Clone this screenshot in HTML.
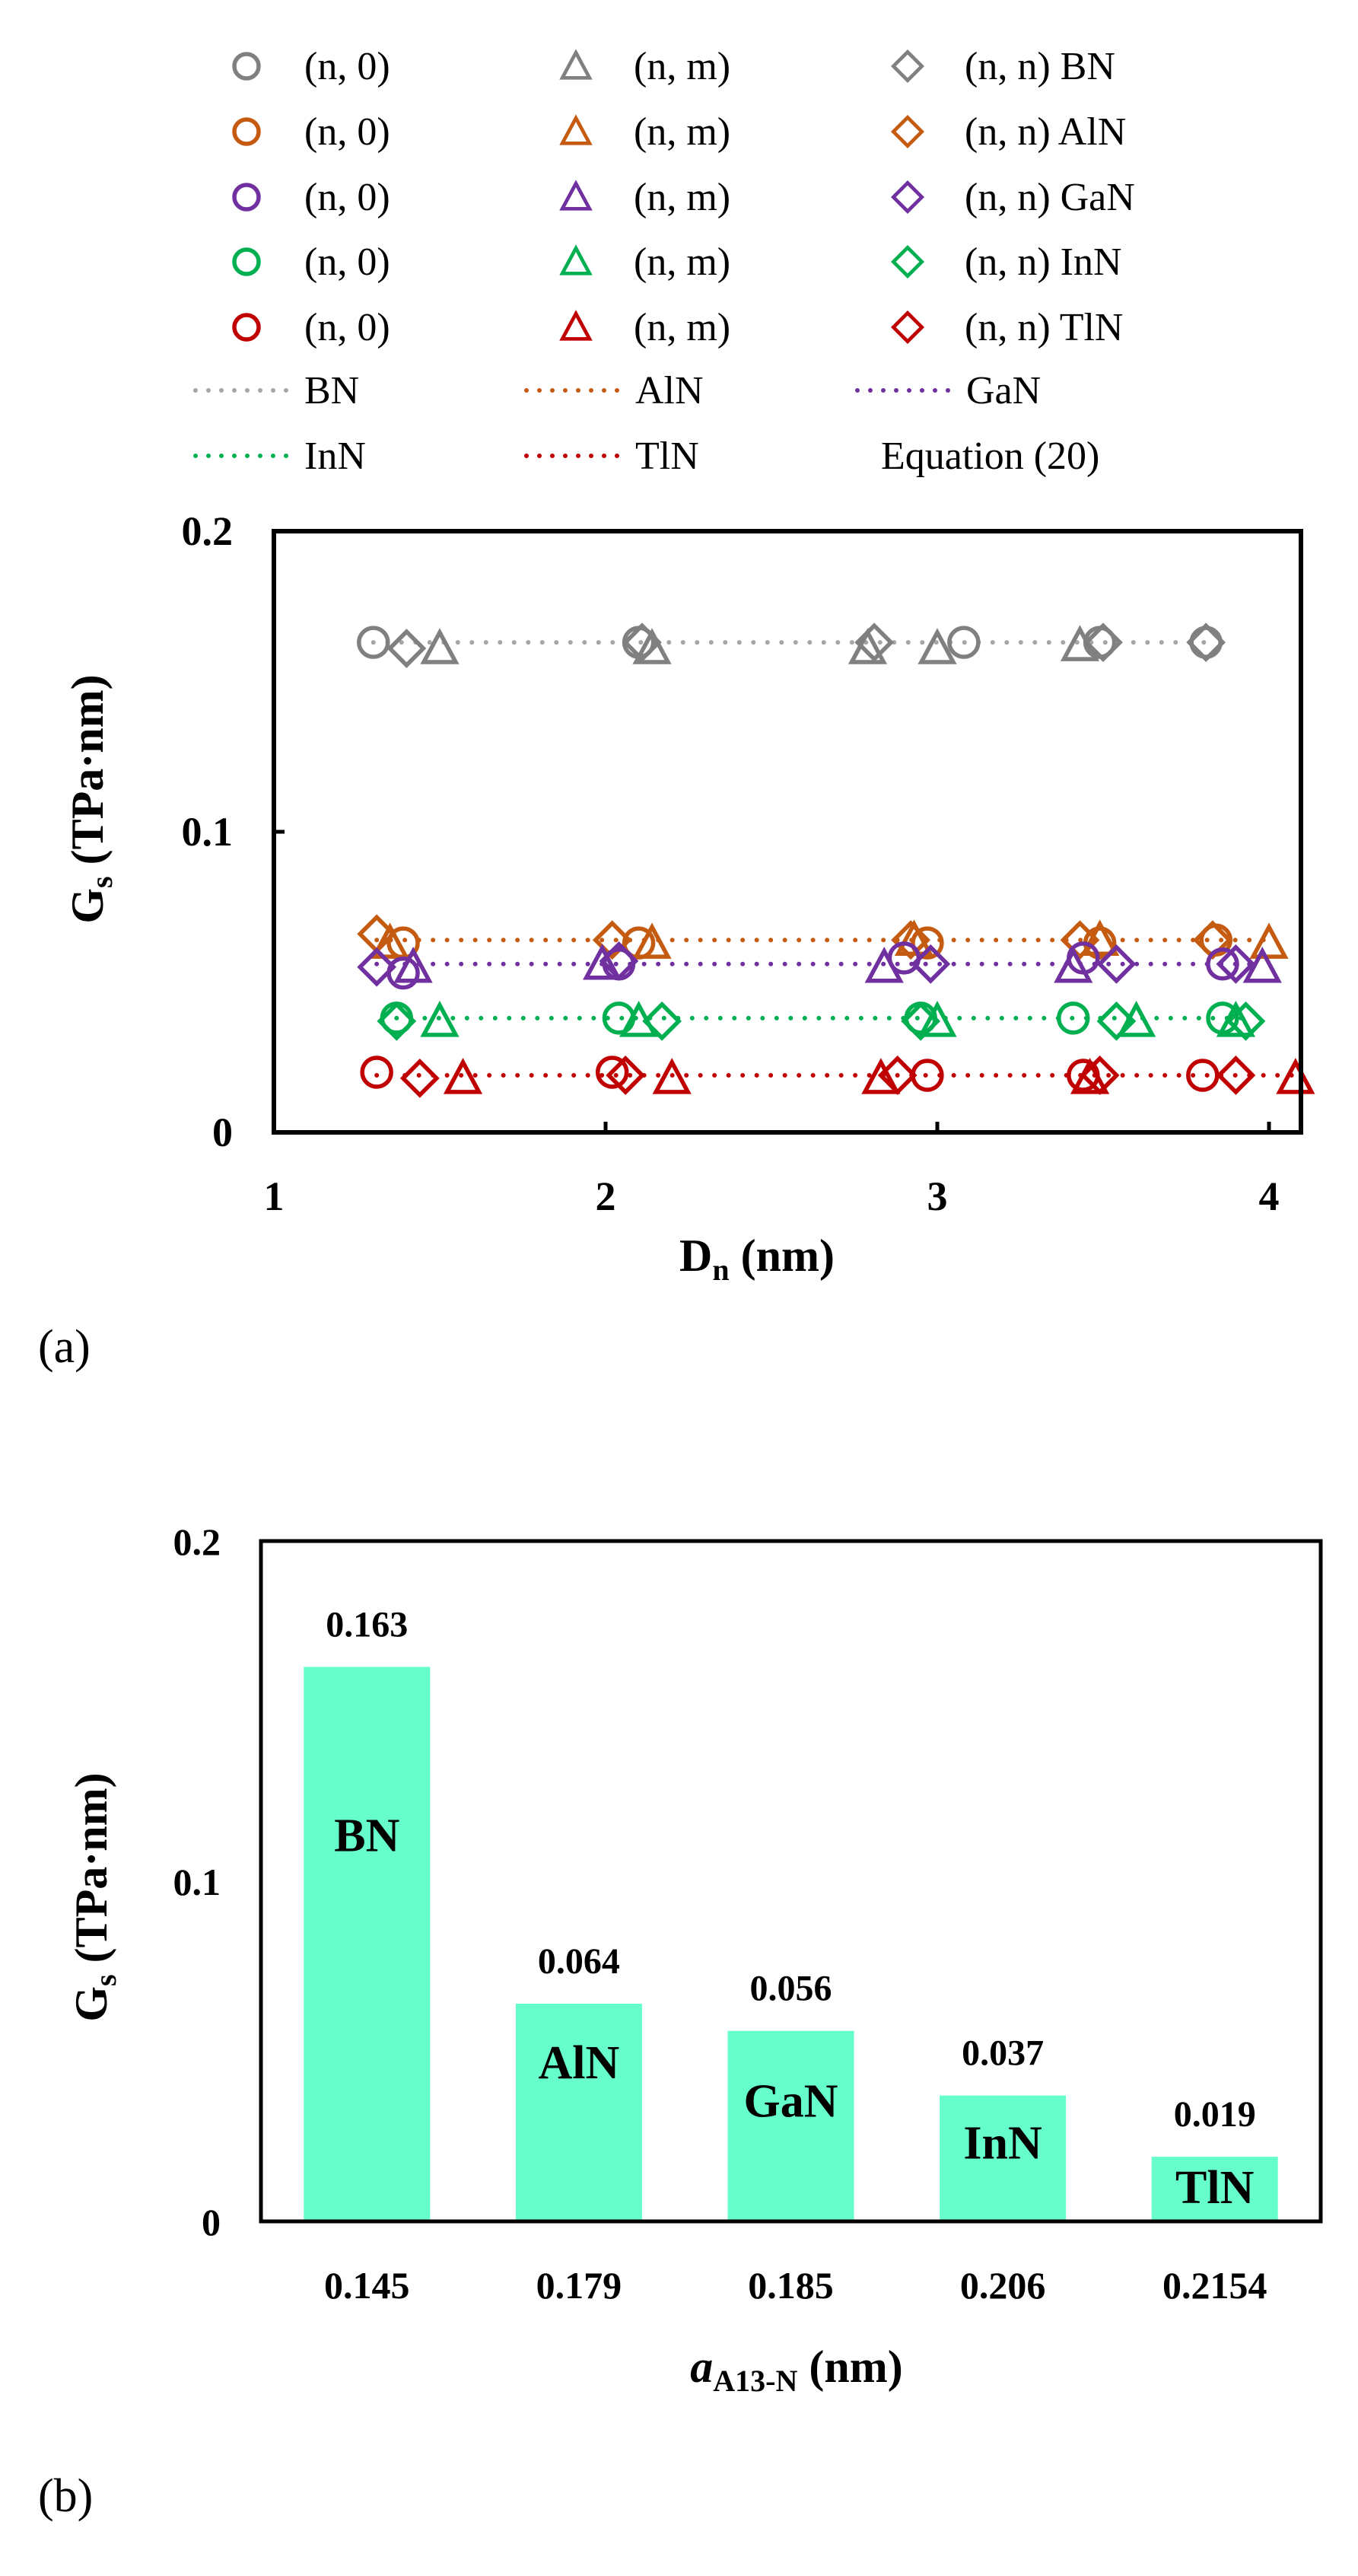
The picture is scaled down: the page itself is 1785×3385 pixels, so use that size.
<!DOCTYPE html>
<html><head><meta charset="utf-8"><style>
html,body{margin:0;padding:0;background:#fff;}
svg{display:block;font-family:"Liberation Serif",serif;}
</style></head><body>
<svg id="fig" width="1785" height="3385" viewBox="0 0 1785 3385" xmlns="http://www.w3.org/2000/svg">
<g id="legend"></g>
<g id="chartA"></g>
<g id="chartB"></g>
</svg>
<script>
const materials = ["BN","AlN","GaN","InN","TlN"];
const colors = ["#808080","#C55A11","#7030A0","#00B050","#C00000"];
const lineColors = ["#A6A6A6","#C55A11","#7030A0","#00B050","#C00000"];
// chart (a) data: D_n (nm) and G_s (TPa·nm)
const zigzagD = [[1.30,2.10,3.08,3.49,3.81],[1.39,2.10,2.97,3.49,3.84],[1.39,2.04,2.90,3.44,3.86],[1.37,2.04,2.95,3.41,3.86],[1.31,2.02,2.97,3.44,3.80]];
const zigzagG = [[0.163,0.163,0.163,0.163,0.163],[0.063,0.063,0.063,0.063,0.064],[0.053,0.056,0.058,0.058,0.056],[0.038,0.038,0.038,0.038,0.038],[0.020,0.020,0.019,0.019,0.019]];
const chiralD = [[1.50,2.14,2.79,3.00,3.43],[1.35,2.14,2.93,3.49,4.00],[1.42,1.99,2.84,3.41,3.98],[1.50,2.10,3.00,3.60,3.90],[1.57,2.20,2.83,3.46,4.08]];
const chiralG = [[0.161,0.161,0.161,0.161,0.162],[0.063,0.063,0.064,0.064,0.063],[0.055,0.056,0.055,0.055,0.055],[0.037,0.037,0.037,0.037,0.037],[0.018,0.018,0.018,0.018,0.018]];
const armchairD = [[1.40,2.11,2.81,3.50,3.81],[1.31,2.02,2.92,3.43,3.83],[1.31,2.04,2.98,3.54,3.90],[1.37,2.17,2.95,3.54,3.93],[1.44,2.06,2.88,3.49,3.90]];
const armchairG = [[0.161,0.163,0.163,0.163,0.163],[0.066,0.064,0.064,0.064,0.064],[0.055,0.057,0.056,0.056,0.056],[0.037,0.037,0.037,0.037,0.037],[0.018,0.019,0.019,0.019,0.019]];
const equationG = [0.163,0.064,0.056,0.038,0.019];
const xTicksA = [1,2,3,4];
const yTicksA = [0,0.1,0.2];
// chart (b)
const barCats = ["0.145","0.179","0.185","0.206","0.2154"];
const barValues = [0.163,0.064,0.056,0.037,0.019];
const barValueLabels = ["0.163","0.064","0.056","0.037","0.019"];
const barNames = ["BN","AlN","GaN","InN","TlN"];
const yTicksB = [0,0.1,0.2];

const NS="http://www.w3.org/2000/svg";
function mk(tag,attrs,parent){const e=document.createElementNS(NS,tag);for(const k in attrs)e.setAttribute(k,attrs[k]);parent.appendChild(e);return e;}
function txt(s,attrs,parent){const e=mk('text',attrs,parent);e.textContent=s;return e;}
function circle(g,x,y,c){const e=mk('circle',{cx:x,cy:y,r:19,fill:'none',stroke:c,'stroke-width':5.5},g);return e;}
function tri(g,x,y,c){return mk('polygon',{points:`${x},${y-21} ${x+21},${y+18} ${x-21},${y+18}`,fill:'none',stroke:c,'stroke-width':5.5,'stroke-linejoin':'miter'},g);}
function dia(g,x,y,c){return mk('polygon',{points:`${x},${y-22} ${x+22},${y} ${x},${y+22} ${x-22},${y}`,fill:'none',stroke:c,'stroke-width':5.5},g);}

// Legend
const L=document.getElementById('legend');
const rowY=[87,173,259,344,430];
for(let i=0;i<5;i++){
  let e;
  e=circle(L,324,rowY[i],colors[i]);e.setAttribute('r',16);
  
  e=txt('(n, 0)',{x:400,y:rowY[i]+17,'font-size':52},L);
  
  e=tri(L,757,rowY[i],colors[i]);e.setAttribute('transform',`translate(757 ${rowY[i]}) scale(0.85) translate(-757 ${-rowY[i]})`);
  
  e=txt('(n, m)',{x:833,y:rowY[i]+17,'font-size':52},L);
  
  e=dia(L,1193,rowY[i],colors[i]);e.setAttribute('transform',`translate(1193 ${rowY[i]}) scale(0.85) translate(-1193 ${-rowY[i]})`);
  
  e=txt('(n, n) '+materials[i],{x:1268,y:rowY[i]+17,'font-size':52},L);
  
}
const lx=[257,692,1127,257,692], ly=[513,513,513,599,599];
for(let i=0;i<5;i++){
  let e=mk('line',{x1:lx[i],y1:ly[i],x2:lx[i]+120,y2:ly[i],stroke:lineColors[i],'stroke-width':6,'stroke-dasharray':'0 17','stroke-linecap':'round'},L);
  
  e=txt(materials[i],{x:lx[i]+143,y:ly[i]+17,'font-size':52},L);
  
}
let eq=txt('Equation (20)',{x:1158,y:616,'font-size':52},L);


// Chart A
const A=document.getElementById('chartA');
const aL=360,aR=1710,aT=698,aB=1488;
const ax=d=>aL+(d-1)*436;
const ay=g=>aB-(g/0.2)*(aB-aT);
for(let i=0;i<5;i++){
  const all=zigzagD[i].concat(chiralD[i],armchairD[i]);
  const mn=Math.min(...all),mx=Math.max(...all);
  let e=mk('line',{x1:ax(mn),y1:ay(equationG[i]),x2:ax(mx),y2:ay(equationG[i]),stroke:lineColors[i],'stroke-width':6,'stroke-dasharray':'0 18.5','stroke-linecap':'round'},A);
  
}
for(let i=0;i<5;i++){
  for(let j=0;j<5;j++){
    let e=circle(A,ax(zigzagD[i][j]),ay(zigzagG[i][j]),colors[i]);
    
    e=tri(A,ax(chiralD[i][j]),ay(chiralG[i][j]),colors[i]);
    
    e=dia(A,ax(armchairD[i][j]),ay(armchairG[i][j]),colors[i]);
    
  }
}
let fa=mk('rect',{x:aL,y:aT,width:aR-aL,height:aB-aT,fill:'none',stroke:'#000','stroke-width':6},A);

xTicksA.forEach(t=>{
  let e=mk('line',{x1:ax(t),y1:aB,x2:ax(t),y2:aB-14,stroke:'#000','stroke-width':5},A);
  
  e=txt(String(t),{x:ax(t),y:1590,'font-size':54,'font-weight':'bold','text-anchor':'middle'},A);
  
});
yTicksA.forEach(t=>{
  let e=mk('line',{x1:aL,y1:ay(t),x2:aL+14,y2:ay(t),stroke:'#000','stroke-width':5},A);
  
  e=txt(String(t),{x:306,y:ay(t)+18,'font-size':54,'font-weight':'bold','text-anchor':'end'},A);
  
});
</script>
<script>
(function(){
const A=document.getElementById('chartA');
let t=txt('',{x:995,y:1670,'font-size':60,'font-weight':'bold','text-anchor':'middle'},A);
t.innerHTML='D<tspan font-size="40" dy="12">n</tspan><tspan dy="-12"> (nm)</tspan>';

t=txt('',{x:0,y:0,'font-size':60,'font-weight':'bold','text-anchor':'middle',transform:'translate(135 1050) rotate(-90)'},A);
t.innerHTML='G<tspan font-size="40" dy="12">s</tspan><tspan dy="-12"> (TPa·nm)</tspan>';

t=txt('(a)',{x:50,y:1790,'font-size':62},A);


// Chart B
const B=document.getElementById('chartB');
const bL=343,bR=1736,bT=2025,bB=2919;
const band=(bR-bL)/barCats.length;
const bx=i=>bL+band*(i+0.5);
const by=v=>bB-(v/0.2)*(bB-bT);
const nameOffsets=[220,76,91,61,39];
barValues.forEach((v,i)=>{
  let e=mk('rect',{x:bx(i)-83,y:by(v),width:166,height:bB-by(v),fill:'#66FFCC'},B);
  
  e=txt(barValueLabels[i],{x:bx(i),y:by(v)-40,'font-size':48,'font-weight':'bold','text-anchor':'middle'},B);
  
  e=txt(barNames[i],{x:bx(i),y:by(v)+nameOffsets[i]+22,'font-size':62,'font-weight':'bold','text-anchor':'middle'},B);
  
  e=txt(barCats[i],{x:bx(i),y:3020,'font-size':50,'font-weight':'bold','text-anchor':'middle'},B);
  
});
let fb=mk('rect',{x:bL,y:bT,width:bR-bL,height:bB-bT,fill:'none',stroke:'#000','stroke-width':5},B);

yTicksB.forEach(v=>{
  let e=txt(String(v),{x:290,y:by(v)+18,'font-size':50,'font-weight':'bold','text-anchor':'end'},B);
  
});
t=txt('',{x:1047,y:3130,'font-size':60,'font-weight':'bold','text-anchor':'middle'},B);
t.innerHTML='<tspan font-style="italic">a</tspan><tspan font-size="40" dy="12">A13-N</tspan><tspan dy="-12"> (nm)</tspan>';

t=txt('',{x:0,y:0,'font-size':60,'font-weight':'bold','text-anchor':'middle',transform:'translate(140 2493) rotate(-90)'},B);
t.innerHTML='G<tspan font-size="40" dy="12">s</tspan><tspan dy="-12"> (TPa·nm)</tspan>';

t=txt('(b)',{x:50,y:3300,'font-size':62},B);

})();
</script>
</body></html>
